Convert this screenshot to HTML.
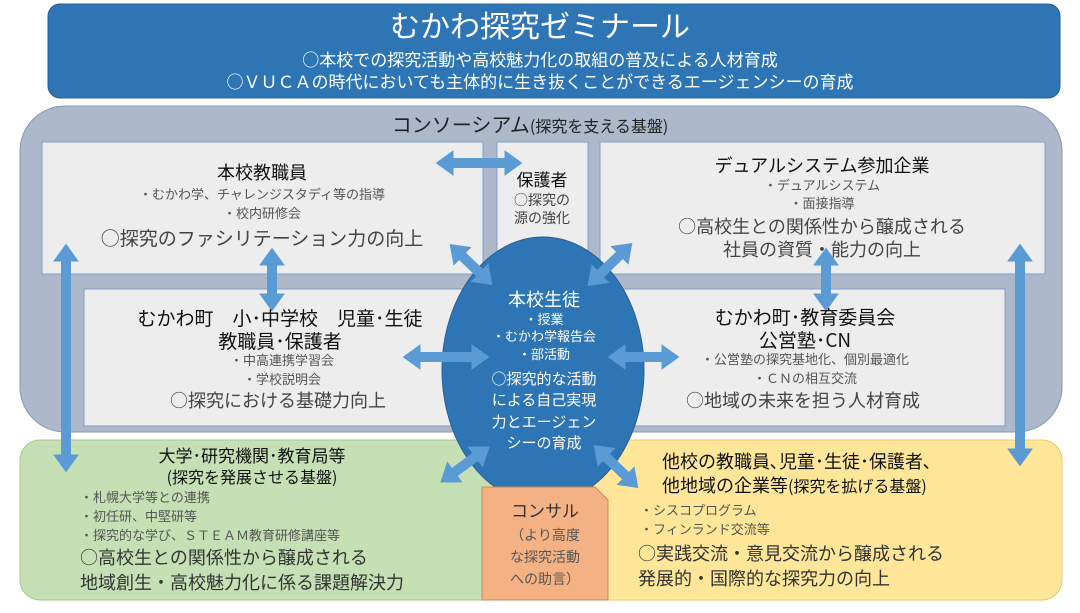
<!DOCTYPE html>
<html><head><meta charset="utf-8"><style>
body{margin:0;background:#fff}
svg text{font-family:"Noto Sans CJK JP","Liberation Sans",sans-serif}
</style></head><body>
<svg width="1080" height="608" viewBox="0 0 1080 608" xmlns="http://www.w3.org/2000/svg">
<defs>
<marker id="ah" viewBox="0 0 10 10" refX="2" refY="5" markerWidth="18" markerHeight="26" markerUnits="userSpaceOnUse" orient="auto-start-reverse" preserveAspectRatio="none">
<path d="M0,0 L10,5 L0,10 Z" fill="#5b9bd5"/></marker>
</defs>
<rect x="48" y="4" width="1012" height="94" rx="12" fill="#2e75b6" stroke="#2a5f94"/>
<text x="540" y="37" font-size="30" fill="#fff" text-anchor="middle">むかわ探究ゼミナール</text>
<text x="540" y="66" font-size="17" fill="#fff" text-anchor="middle">○本校での探究活動や高校魅力化の取組の普及による人材育成</text>
<text x="540" y="88" font-size="17" fill="#fff" text-anchor="middle">○ＶＵＣＡの時代においても主体的に生き抜くことができるエージェンシーの育成</text>
<rect x="20" y="106" width="1042" height="326" rx="45" fill="#adb9ca" stroke="#8497b0"/>
<text x="530" y="132" font-size="20" fill="#222" text-anchor="middle">コンソーシアム<tspan font-size="16">(探究を支える基盤)</tspan></text>
<rect x="20" y="440" width="500" height="160" rx="20" fill="#c5e0b4" stroke="#a9c98f"/>
<rect x="490" y="440" width="572" height="160" rx="20" fill="#ffe699" stroke="#e8c96a"/>
<rect x="42" y="142" width="441" height="132" fill="#ededed" stroke="#7f9fc9"/>
<rect x="497" y="142" width="91" height="130" fill="#ededed" stroke="#7f9fc9"/>
<rect x="600" y="142" width="445" height="132" fill="#ededed" stroke="#7f9fc9"/>
<rect x="84" y="289" width="400" height="137" fill="#ededed" stroke="#7f9fc9"/>
<rect x="600" y="289" width="405" height="137" fill="#ededed" stroke="#7f9fc9"/>
<ellipse cx="543" cy="370" rx="101" ry="133" fill="#2e75b6" stroke="#2a5f94"/>
<path d="M482,487 L595,487 L608,500 L608,600 L482,600 Z" fill="#f4b183" stroke="#c9875a"/>
<g stroke="#5b9bd5" stroke-width="10" marker-start="url(#ah)" marker-end="url(#ah)">
<line x1="450" y1="163" x2="508" y2="163"/>
<line x1="272" y1="262" x2="272" y2="297"/>
<line x1="826" y1="262" x2="826" y2="297"/>
<line x1="66" y1="258" x2="66" y2="458"/>
<line x1="1020" y1="258" x2="1020" y2="452"/>
<line x1="417" y1="357" x2="475" y2="357"/>
<line x1="622" y1="357" x2="665" y2="357"/>
<line x1="460" y1="254" x2="482" y2="275"/>
<line x1="622" y1="253" x2="598" y2="276"/>
<line x1="478" y1="455" x2="452" y2="474"/>
<line x1="604" y1="455" x2="628" y2="478"/>
</g>
<g text-anchor="middle">
<text x="262" y="179" font-size="18" fill="#111">本校教職員</text>
<text x="262" y="199" font-size="13" fill="#555">・むかわ学、チャレンジスタディ等の指導</text>
<text x="262" y="218" font-size="13" fill="#555">・校内研修会</text>
<text x="262" y="245" font-size="19" fill="#444">○探究のファシリテーション力の向上</text>
<text x="542" y="186" font-size="17" fill="#111">保護者</text>
<text x="542" y="205" font-size="14" fill="#444">○探究の</text>
<text x="542" y="223" font-size="14" fill="#444">源の強化</text>
<text x="822" y="172" font-size="18" fill="#111">デュアルシステム参加企業</text>
<text x="822" y="190" font-size="13" fill="#555">・デュアルシステム</text>
<text x="822" y="208" font-size="13" fill="#555">・面接指導</text>
<text x="822" y="233" font-size="18" fill="#444">○高校生との関係性から醸成される</text>
<text x="822" y="256" font-size="18" fill="#444">社員の資質・能力の向上</text>
<text x="280" y="325" font-size="19" fill="#111">むかわ町　小･中学校　児童･生徒</text>
<text x="280" y="348" font-size="19" fill="#111">教職員･保護者</text>
<text x="282" y="365" font-size="13" fill="#555">・中高連携学習会</text>
<text x="282" y="384" font-size="13" fill="#555">・学校説明会</text>
<text x="278" y="407" font-size="18" fill="#444">○探究における基礎力向上</text>
<text x="805" y="324" font-size="19" fill="#111">むかわ町･教育委員会</text>
<text x="805" y="347" font-size="19" fill="#111">公営塾･CN</text>
<text x="805" y="364" font-size="13" fill="#555">・公営塾の探究基地化、個別最適化</text>
<text x="805" y="383" font-size="13" fill="#555">・ＣＮの相互交流</text>
<text x="803" y="407" font-size="18" fill="#444">○地域の未来を担う人材育成</text>
<g fill="#fff">
<text x="544" y="306" font-size="18">本校生徒</text>
<text x="544" y="324" font-size="13">・授業</text>
<text x="544" y="341" font-size="13">・むかわ学報告会</text>
<text x="544" y="359" font-size="13">・部活動</text>
<text x="544" y="384" font-size="15">○探究的な活動</text>
<text x="544" y="405" font-size="15">による自己実現</text>
<text x="544" y="427" font-size="15">力とエージェン</text>
<text x="544" y="448" font-size="15">シーの育成</text>
</g>
<text x="252" y="462" font-size="17" fill="#111">大学･研究機関･教育局等</text>
<text x="252" y="483" font-size="16" fill="#111">(探究を発展させる基盤)</text>
<text x="545" y="517" font-size="17" fill="#333">コンサル</text>
<text x="545" y="540" font-size="14" fill="#555">（より高度</text>
<text x="545" y="562" font-size="14" fill="#555">な探究活動</text>
<text x="545" y="584" font-size="14" fill="#555">への助言）</text>
</g>
<g fill="#555" font-size="13">
<text x="80" y="502">・札幌大学等との連携</text>
<text x="80" y="521">・初任研、中堅研等</text>
<text x="80" y="540">・探究的な学び、ＳＴＥＡＭ教育研修講座等</text>
<text x="640" y="515">・シスコプログラム</text>
<text x="640" y="534">・フィンランド交流等</text>
</g>
<g fill="#333" font-size="18">
<text x="80" y="564">○高校生との関係性から醸成される</text>
<text x="80" y="589">地域創生・高校魅力化に係る課題解決力</text>
<text x="638" y="560">○実践交流・意見交流から醸成される</text>
<text x="638" y="585">発展的・国際的な探究力の向上</text>
</g>
<text x="662" y="468" font-size="18" fill="#111">他校の教職員､児童･生徒･保護者､</text>
<text x="662" y="492" font-size="18" fill="#111">他地域の企業等<tspan font-size="16">(探究を拡げる基盤)</tspan></text>
</svg>
</body></html>
